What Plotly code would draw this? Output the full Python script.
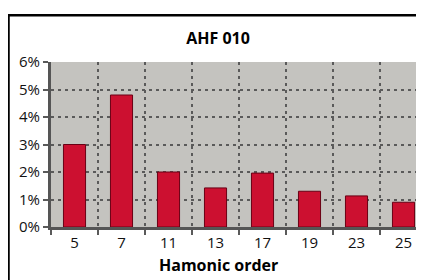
import plotly.graph_objects as go

categories = ["5", "7", "11", "13", "17", "19", "23", "25"]
values = [3.0, 4.8, 2.0, 1.42, 1.96, 1.3, 1.13, 0.9]
y_ticks = [0, 1, 2, 3, 4, 5, 6]
y_labels = [f"{v}%" for v in y_ticks]

W, H = 424, 280
L, R, T, B = 43, 5, 54, 61
pw, ph = W - L - R, H - T - B

fig = go.Figure()
fig.add_trace(go.Bar(
    x=categories, y=values, width=0.47,
    marker=dict(color="#cc1030", line=dict(color="#6a0014", width=1)),
))

dot = "3px,4px"
fig.update_layout(
    width=W, height=H,
    margin=dict(l=L, r=R, t=T, b=B),
    paper_bgcolor="white", plot_bgcolor="#c4c3bf",
    showlegend=False,
    font=dict(family="Open Sans", size=15, color="#111"),
    title=dict(text="<b>AHF 010</b>", x=210 / W, xanchor="center",
               y=1 - 30 / H, yanchor="middle", font=dict(size=16, color="#000")),
)
fig.update_xaxes(
    type="category", range=[-0.5, 7.5], tickson="boundaries",
    showgrid=True, gridcolor="#5a5a5a", griddash=dot, gridwidth=2,
    ticks="outside", ticklen=5, tickcolor="#5a5a5a", tickwidth=2,
    showline=True, linecolor="#555", linewidth=3,
    tickfont=dict(size=15, color="#111"),
)
fig.update_yaxes(
    range=[0, 6], tickvals=y_ticks, ticktext=y_labels,
    showgrid=True, gridcolor="#5a5a5a", griddash=dot, gridwidth=2,
    ticks="outside", ticklen=5, tickcolor="#5a5a5a", tickwidth=2,
    showline=True, linecolor="#555", linewidth=3,
    zeroline=False, tickfont=dict(size=15, color="#111"),
)
fig.add_annotation(text="<b>Hamonic order</b>", xref="paper", yref="paper",
                   x=(210 - L) / pw, y=-(257 - (H - B)) / ph, xanchor="center", yanchor="middle",
                   showarrow=False, font=dict(size=16, color="#000"))
fig.add_shape(type="rect", xref="paper", yref="paper",
              x0=(0.5 - L) / pw, x1=(460 - L) / pw,
              y0=-(320 - (H - B)) / ph, y1=((H - B) - 7.3) / ph,
              line=dict(color="#000", width=2.5), fillcolor="rgba(0,0,0,0)", layer="below")
fig.write_html("out.html")
